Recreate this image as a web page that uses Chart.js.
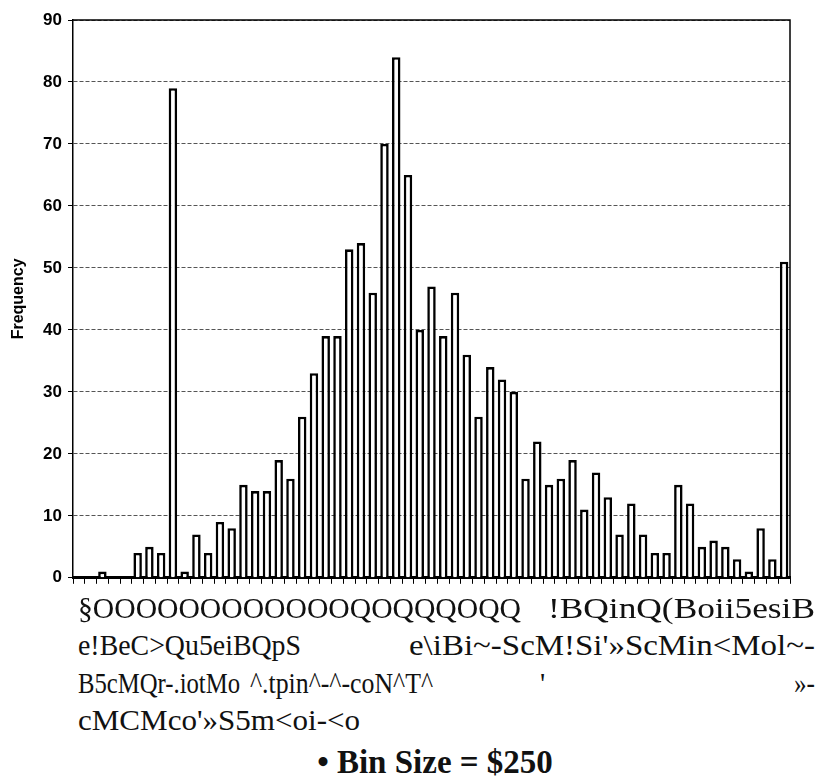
<!DOCTYPE html>
<html>
<head>
  <title>Frequency histogram</title>
  <script src="https://cdn.jsdelivr.net/npm/chart.js"></script>
  <style>
    html, body {
      margin: 0;
      padding: 0;
      background: #ffffff;
    }

    .page {
      position: relative;
      width: 818px;
      height: 776px;
      overflow: hidden;
    }

    .chart-box {
      position: absolute;
      left: 0;
      top: 0;
      width: 818px;
      height: 594px;
    }

    /* scanned axis text, each piece placed where it sits in the scan */
    .seg {
      position: absolute;
      white-space: pre;
      font-family: 'Liberation Serif', 'Times New Roman', serif;
      font-size: 29px;
      line-height: 36px;
      color: #111111;
      transform-origin: 0 50%;
    }

    .bin-size {
      position: absolute;
      left: 0;
      top: 746px;
      width: 870px;
      text-align: center;
      font-family: 'Liberation Serif', 'Times New Roman', serif;
      font-weight: bold;
      font-size: 33px;
      line-height: 33px;
      color: #111111;
    }
  </style>
</head>
<body>
  <div class="page">
    <div class="chart-box"><canvas id="histo"></canvas></div>

    <span class="seg" data-x0="78" data-x1="521" style="top:590px">§OOOOOOOOOOOOQOQQQOQQ</span>
    <span class="seg" data-x0="548" data-x1="815" style="top:590px">!BQinQ(Boii5esiB</span>
    <span class="seg" data-x0="78" data-x1="301" style="top:627px">e!BeC&gt;Qu5eiBQpS</span>
    <span class="seg" data-x0="409" data-x1="815" style="top:627px">e\iBi~-ScM!Si'»ScMin&lt;Mol~-</span>
    <span class="seg" data-x0="78" data-x1="240" style="top:665px">B5cMQr-.iotMo</span>
    <span class="seg" data-x0="250" data-x1="433" style="top:665px">^.tpin^-^-coN^T^</span>
    <span class="seg" data-x0="540" data-x1="545" style="top:665px">'</span>
    <span class="seg" data-x0="794" data-x1="815" style="top:665px">»-</span>
    <span class="seg" data-x0="78" data-x1="360" style="top:702px">cMCMco'»S5m&lt;oi-&lt;o</span>

    <div class="bin-size">• Bin Size = $250</div>
  </div>

  <script>
    // bins of $250, numbered left to right
    var bins = [1, 2, 3, 4, 5, 6, 7, 8, 9, 10,
                11, 12, 13, 14, 15, 16, 17, 18, 19, 20,
                21, 22, 23, 24, 25, 26, 27, 28, 29, 30,
                31, 32, 33, 34, 35, 36, 37, 38, 39, 40,
                41, 42, 43, 44, 45, 46, 47, 48, 49, 50,
                51, 52, 53, 54, 55, 56, 57, 58, 59, 60, 61];

    var frequency = [0, 0, 1, 0, 0, 4, 5, 4, 79, 1,
                     7, 4, 9, 8, 15, 14, 14, 19, 16, 26,
                     33, 39, 39, 53, 54, 46, 70, 84, 65, 40,
                     47, 39, 46, 36, 26, 34, 32, 30, 16, 22,
                     15, 16, 19, 11, 17, 13, 7, 12, 7, 4,
                     4, 15, 12, 5, 6, 5, 3, 1, 8, 3, 51];

    var yTicks = [0, 10, 20, 30, 40, 50, 60, 70, 80, 90];

    // stretch each scanned text piece to the width it has in the scan
    document.querySelectorAll('.seg').forEach(function(el) {
      var x0 = +el.dataset.x0, x1 = +el.dataset.x1;
      el.style.left = x0 + 'px';
      var w = el.getBoundingClientRect().width;
      if (w > 0 && x1 - x0 > 8) {
        el.style.transform = 'scaleX(' + ((x1 - x0) / w) + ')';
      }
    });

    // top and right edges of the plot frame
    var framePlugin = {
      id: 'frame',
      afterDraw: function(chart) {
        var a = chart.chartArea;
        var c = chart.ctx;
        c.save();
        c.strokeStyle = '#000000';
        c.lineWidth = 1.5;
        c.beginPath();
        c.moveTo(a.left, a.top);
        c.lineTo(a.right, a.top);
        c.lineTo(a.right, a.bottom);
        c.stroke();
        c.restore();
      }
    };

    var ctx = document.getElementById('histo').getContext('2d');
    var myChart = new Chart(ctx, {
      type: 'bar',
      data: {
        labels: bins,
        datasets: [{
          label: 'Frequency',
          data: frequency,
          backgroundColor: '#ffffff',
          borderColor: '#000000',
          borderWidth: 2.6,
          barPercentage: 0.72,
          categoryPercentage: 1.0
        }]
      },
      options: {
        responsive: true,
        maintainAspectRatio: false,
        animation: false,
        layout: {
          padding: { left: 0, right: 28, top: 20, bottom: 0 }
        },
        plugins: {
          legend: { display: false },
          tooltip: { enabled: false }
        },
        scales: {
          y: {
            min: 0,
            max: 90,
            afterBuildTicks: function(scale) {
              scale.ticks = yTicks.map(function(v) { return { value: v }; });
            },
            afterFit: function(scale) {
              scale.width = 73;
            },
            ticks: {
              color: '#000000',
              padding: 6,
              font: { family: 'Liberation Sans, Arial, sans-serif', size: 17, weight: 'bold' }
            },
            grid: {
              color: '#555555',
              lineWidth: 1,
              drawTicks: true,
              tickLength: 5,
              tickColor: '#000000',
              tickBorderDash: []
            },
            border: {
              display: true,
              color: '#000000',
              width: 1.5,
              dash: [4, 2]
            },
            title: {
              display: true,
              text: 'Frequency',
              color: '#000000',
              padding: { top: 9, bottom: 0 },
              font: { family: 'Liberation Sans, Arial, sans-serif', size: 16, weight: 'bold' }
            }
          },
          x: {
            offset: true,
            afterFit: function(scale) {
              scale.height = 14;
            },
            ticks: { display: false },
            grid: {
              offset: true,
              drawOnChartArea: false,
              drawTicks: true,
              tickLength: 6,
              tickColor: '#000000',
              tickWidth: 1
            },
            border: {
              display: true,
              color: '#000000',
              width: 3
            }
          }
        }
      },
      plugins: [framePlugin]
    });
  </script>
</body>
</html>
